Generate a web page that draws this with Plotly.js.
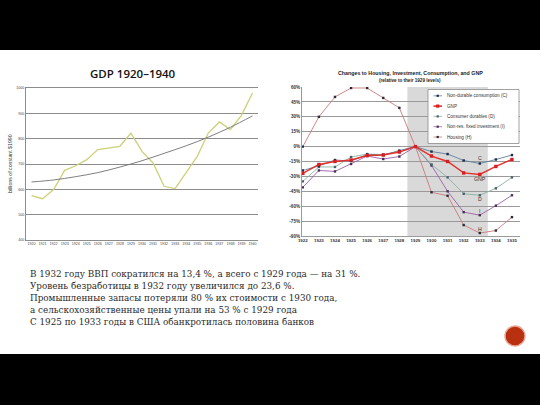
<!DOCTYPE html>
<html>
<head>
<meta charset="utf-8">
<script src="https://cdn.plot.ly/plotly-3.0.1.min.js"></script>
<style>
html,body{margin:0;padding:0;background:#fff;}
#chart{width:540px;height:405px;}
</style>
</head>
<body>
<div id="chart"></div>
<script>
// ---- Left chart data: GDP 1920-1940 (billions of constant $1990) ----
const gdpYears = [1920,1921,1922,1923,1924,1925,1926,1927,1928,1929,1930,1931,1932,1933,1934,1935,1936,1937,1938,1939,1940];
const gdpValues = [575,563,599,675,693,717,757,763,770,822,750,704,612,603,664,730,822,866,836,892,980];
const trendYears = [1920,1922,1924,1926,1928,1930,1932,1934,1936,1938,1940];
const trendValues = [629,637,650,666,688,713,742,772,806,845,890];
const gdpTickVals = [400,500,600,700,800,900,1000];
const gdpTickText = ['400','500','600','700','800','900','1000'];

// ---- Right chart data: changes relative to 1929 levels (%) ----
const years = [1922,1923,1924,1925,1926,1927,1928,1929,1930,1931,1932,1933,1934,1935];
const nonDurable = [-24,-19.5,-13.5,-14.5,-8,-8.5,-4,0,-5,-7.5,-14,-17,-13,-8.5];
const gnp = [-27,-18,-15,-13.5,-9,-8.5,-5.5,0,-9.5,-15,-26.5,-28,-20,-13];
const durables = [-35,-20.5,-20.5,-10.5,-7.5,-8,-5,0,-18,-31,-47.5,-49,-42,-31];
const investment = [-41,-24,-25,-17.5,-9.5,-12.5,-10,0,-19,-45,-66,-69,-59.5,-49];
const housing = [0,30,50,59,59,49,39,0,-46,-49.5,-79,-87,-84.5,-71];
const pctTicks = [60,45,30,15,0,-15,-30,-45,-60,-75,-90];
const pctLabels = ['60%','45%','30%','15%','0%','-15%','-30%','-45%','-60%','-75%','-90%'];
const slumpYears = [1929,1933];
const seriesNames = ['Non-durable consumption (C)','GNP','Consumer durables (D)','Non-res. fixed investment (I)','Housing (H)'];
const endLabels = ['C','GNP','D','I','H'];

const bulletLines = [
  'В 1932 году ВВП сократился на 13,4 %, а всего с 1929 года — на 31 %.',
  'Уровень безработицы в 1932 году увеличился до 23,6 %.',
  'Промышленные запасы потеряли 80 % их стоимости с 1930 года,',
  'а сельскохозяйственные цены упали на 53 % с 1929 года',
  'С 1925 по 1933 годы в США обанкротилась половина банков'
];

// ---- helpers for pixel -> paper ----
const W = 540, H = 405;
const px = x => x / W;
const py = y => 1 - y / H;

const colC = '#5f7f9c', colG = '#e4302c', colD = '#86b3a3', colI = '#9c5fa6', colH = '#c97a7a';
const mk = '#2b2b3a';

const traces = [
  {x: gdpYears, y: gdpValues, xaxis:'x', yaxis:'y', mode:'lines', line:{color:'#cdd178', width:1.3}, hoverinfo:'skip'},
  {x: trendYears, y: trendValues, xaxis:'x', yaxis:'y', mode:'lines', line:{color:'#707070', width:0.9, shape:'spline'}, hoverinfo:'skip'},
  {x: years, y: housing, xaxis:'x2', yaxis:'y2', mode:'lines+markers', line:{color:colH, width:0.9}, marker:{symbol:'square', size:2.4, color:mk}},
  {x: years, y: investment, xaxis:'x2', yaxis:'y2', mode:'lines+markers', line:{color:colI, width:0.9}, marker:{symbol:'square', size:2.4, color:'#4a2f55'}},
  {x: years, y: durables, xaxis:'x2', yaxis:'y2', mode:'lines+markers', line:{color:colD, width:0.9}, marker:{symbol:'square', size:2.4, color:'#4d5f6a'}},
  {x: years, y: nonDurable, xaxis:'x2', yaxis:'y2', mode:'lines+markers', line:{color:colC, width:0.9}, marker:{symbol:'square', size:2.4, color:'#1f2a45'}},
  {x: years, y: gnp, xaxis:'x2', yaxis:'y2', mode:'lines+markers', line:{color:colG, width:1.4}, marker:{symbol:'square', size:3.4, color:'#d81f1f'}}
];

const shapes = [
  // black bands
  {type:'rect', xref:'paper', yref:'paper', x0:0, x1:1, y0:py(50), y1:1, fillcolor:'#000', line:{width:0}, layer:'below'},
  {type:'rect', xref:'paper', yref:'paper', x0:0, x1:1, y0:0, y1:py(354), fillcolor:'#000', line:{width:0}, layer:'below'},
  // depression shading
  {type:'rect', xref:'x2', yref:'y2 domain', x0:slumpYears[0]-0.5, x1:slumpYears[1]+0.5, y0:0, y1:1, fillcolor:'#d9d9d9', line:{width:0}, layer:'below'},
  // legend box
  {type:'rect', xref:'paper', yref:'paper', x0:px(428), x1:px(519), y0:py(143.5), y1:py(89.5), fillcolor:'#fff', line:{color:'#8a8a8a', width:0.8}, layer:'above'},
  // red circle
  {type:'circle', xref:'paper', yref:'paper', x0:px(505), x1:px(525), y0:py(346), y1:py(326), fillcolor:'#b8300f', line:{color:'#e9a592', width:1.4}, layer:'above'}
];

const legendCols = [colC, colG, colD, colI, colH];
const legendMk = ['#1f2a45','#d81f1f','#4d5f6a','#4a2f55',mk];
const rowY = [95.8, 106.1, 116.4, 126.7, 137];
const annotations = [];
seriesNames.forEach((n,i)=>{
  const yy = rowY[i];
  const w = i===1 ? 1.6 : 0.8;
  shapes.push({type:'line', xref:'paper', yref:'paper', x0:px(433.5), x1:px(442), y0:py(yy), y1:py(yy), line:{color:legendCols[i], width:w}, layer:'above'});
  const s = i===1 ? 1.6 : 1.1;
  shapes.push({type:'rect', xref:'paper', yref:'paper', x0:px(437.7-s), x1:px(437.7+s), y0:py(yy+s), y1:py(yy-s), fillcolor:legendMk[i], line:{width:0}, layer:'above'});
  annotations.push({xref:'paper', yref:'paper', x:px(444.5), y:py(yy), xanchor:'left', yanchor:'middle', text:n, showarrow:false, font:{family:'Liberation Sans, Arial', size:4.6, color:'#333'}});
});

// end labels near 1933
const idx33 = years.indexOf(1933);
const endSeries = [nonDurable, gnp, durables, investment, housing];
const endOffsets = [6, -4.8, -4, 4.6, 4.2];
endLabels.forEach((t,i)=>{
  annotations.push({xref:'x2', yref:'y2', x:years[idx33], y:endSeries[i][idx33] + endOffsets[i], text:t, showarrow:false, xanchor:'center', yanchor:'middle', font:{family:'Liberation Sans, Arial', size:5.2, color:'#333'}});
});

// titles
annotations.push({xref:'paper', yref:'paper', x:px(133), y:py(74), text:'GDP 1920–1940', showarrow:false, xanchor:'center', yanchor:'middle', font:{family:'Open Sans, DejaVu Sans', size:11.5, color:'#111', weight:600}});
annotations.push({xref:'paper', yref:'paper', x:px(10), y:py(164), text:'billions of constant $1990', textangle:-90, showarrow:false, xanchor:'center', yanchor:'middle', font:{family:'Liberation Sans, Arial', size:5.2, color:'#333'}});
annotations.push({xref:'paper', yref:'paper', x:px(410), y:py(73), text:'<b>Changes to Housing, Investment, Consumption, and GNP</b>', showarrow:false, xanchor:'center', yanchor:'middle', font:{family:'Liberation Sans, Arial', size:5.3, color:'#222'}});
annotations.push({xref:'paper', yref:'paper', x:px(410), y:py(80.5), text:'<b>(relative to their 1929 levels)</b>', showarrow:false, xanchor:'center', yanchor:'middle', font:{family:'Liberation Sans, Arial', size:4.6, color:'#222'}});

// bullet text
bulletLines.forEach((t,i)=>{
  annotations.push({xref:'paper', yref:'paper', x:px(28), y:py(274 + i*12), text:t, showarrow:false, xanchor:'left', yanchor:'middle', font:{family:'DejaVu Serif', size:8.8, color:'#2a2a2a'}});
});

const layout = {
  width: W, height: H,
  margin:{l:0, r:0, t:0, b:0},
  paper_bgcolor:'#fff', plot_bgcolor:'#fff',
  showlegend:false,
  xaxis:{domain:[px(26), px(258)], range:[1919.5,1940.5], tickvals:gdpYears, ticktext:gdpYears.map(String), tickfont:{family:'Liberation Sans, Arial', size:3.6, color:'#444'}, showgrid:false, zeroline:false, showline:true, linecolor:'#8c8c8c', linewidth:1, mirror:true, ticks:'', anchor:'y', fixedrange:true},
  yaxis:{domain:[py(240), py(88)], range:[400,1000], tickvals:gdpTickVals, ticktext:gdpTickText, tickfont:{family:'Liberation Sans, Arial', size:3.6, color:'#444'}, gridcolor:'#8c8c8c', gridwidth:1, zeroline:false, showline:true, linecolor:'#8c8c8c', ticks:'', anchor:'x', fixedrange:true},
  xaxis2:{domain:[px(302), px(520)], range:[1921.95,1935.5], tickvals:years, ticktext:years.map(y=>'<b>'+y+'</b>'), tickfont:{family:'Liberation Sans, Arial', size:4.4, color:'#333'}, showgrid:false, zeroline:false, showline:true, linecolor:'#9a9a9a', ticks:'', anchor:'y2', fixedrange:true},
  yaxis2:{domain:[py(236), py(87)], range:[-90,60], tickvals:pctTicks, ticktext:pctLabels.map(s=>'<b>'+s+'</b>'), tickfont:{family:'Liberation Sans, Arial', size:4.6, color:'#333'}, gridcolor:'#9a9a9a', gridwidth:1, zeroline:false, showline:true, linecolor:'#9a9a9a', ticks:'', anchor:'x2', fixedrange:true},
  shapes: shapes,
  annotations: annotations
};

Plotly.newPlot('chart', traces, layout, {staticPlot:true, displayModeBar:false});
</script>
</body>
</html>
